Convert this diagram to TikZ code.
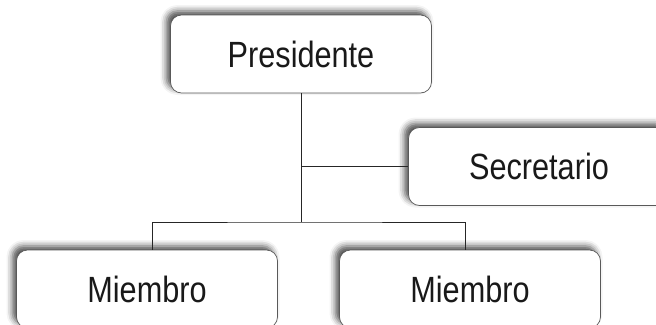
\documentclass[tikz,border=0pt]{standalone}
\usepackage{fontspec}
\setmainfont{Liberation Sans}[FakeStretch=0.84]
\usetikzlibrary{positioning,calc,shadows.blur}

\begin{document}
\begin{tikzpicture}[x=1pt, y=-1pt,
    cargo/.style={draw=black!65, line width=0.7pt, rounded corners=11pt,
        fill=white, minimum width=261pt, minimum height=78pt,
        text=black!90, font=\fontsize{36.5}{40}\selectfont,
        blur shadow={shadow xshift=-4pt, shadow yshift=4pt,
            shadow blur radius=6pt, shadow opacity=70}},
    enlace/.style={draw=black!85, line width=0.9pt}]
    \useasboundingbox (0,0) rectangle (656,324);

    \node [cargo] (pres) at (301,54) {Presidente};
    \node [cargo] (sec) at (539,166.5) {Secretario};
    \node [cargo] (miem1) at (147,289) {Miembro};
    \node [cargo] (miem2) at (470,289) {Miembro};

    \coordinate (bus) at ($(pres.south |- 0,222)$);

    \draw [enlace] (pres.south) -- (bus);
    \draw [enlace] (pres.south |- sec.west) -- (sec.west);
    \draw [enlace] ($(miem1.north)+(5,0)$) |- (bus) -| ($(miem2.north)+(-5,0)$);
\end{tikzpicture}
\end{document}
